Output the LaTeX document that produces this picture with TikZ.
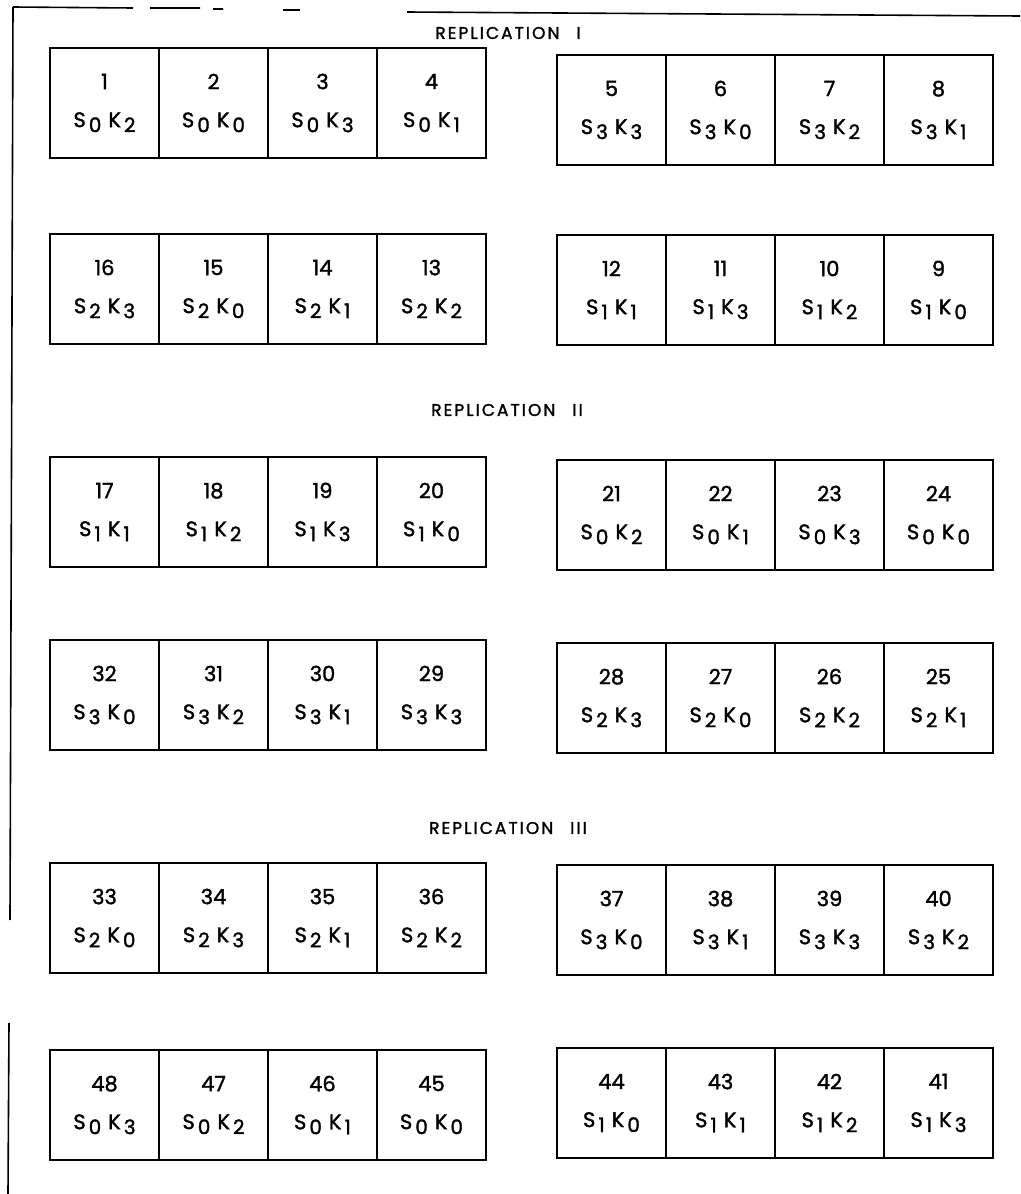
\documentclass[tikz,border=0pt]{standalone}
\usepackage{fontspec}
\setmainfont{Poppins}[FakeBold=1.6]
\newfontfamily\titlefont[LetterSpace=12,FakeBold=1.6]{Poppins}
\newcommand\plotlab[2]{S\kern3pt\raisebox{-5pt}{\fontsize{20}{20}\selectfont #1}\kern7pt K\kern3pt\raisebox{-5pt}{\fontsize{20}{20}\selectfont #2}}

\begin{document}
\begin{tikzpicture}[x=1pt, y=-1pt,
  plotbox/.style={draw, line width=2.2pt, minimum width=109pt, minimum height=110pt, inner sep=0pt, align=center, font=\fontsize{21}{38}\selectfont},
  reptitle/.style={font=\titlefont\fontsize{17}{17}\selectfont},
  frame/.style={line width=1.6pt}
]
\useasboundingbox (0,0) rectangle (1020,1194);

% field frame (broken in the scan)
\draw[frame] (13,7) -- (133,8) (150,8) -- (200,8) (213,9) -- (223,9) (283,10) -- (300,10) (407,12) -- (1020,16);
\draw[frame] (13,7) -- (10,920) (9,1023) -- (8,1194);

% replication titles
\node[reptitle] (rep1) at (508,33) {REPLICATION\quad I};
\node[reptitle] (rep2) at (507,410) {REPLICATION\quad II};
\node[reptitle] (rep3) at (508,828) {REPLICATION\quad III};

% blocks: left x / top y / plot number, S level, K level
\foreach \xo/\yo/\plots in {
  50/48/{1/0/2,2/0/0,3/0/3,4/0/1},
  557/55/{5/3/3,6/3/0,7/3/2,8/3/1},
  50/234/{16/2/3,15/2/0,14/2/1,13/2/2},
  557/235/{12/1/1,11/1/3,10/1/2,9/1/0},
  50/457/{17/1/1,18/1/2,19/1/3,20/1/0},
  557/460/{21/0/2,22/0/1,23/0/3,24/0/0},
  50/640/{32/3/0,31/3/2,30/3/1,29/3/3},
  557/643/{28/2/3,27/2/0,26/2/2,25/2/1},
  50/863/{33/2/0,34/2/3,35/2/1,36/2/2},
  557/865/{37/3/0,38/3/1,39/3/3,40/3/2},
  50/1050/{48/0/3,47/0/2,46/0/1,45/0/0},
  557/1048/{44/1/0,43/1/1,42/1/2,41/1/3}}
{
  \foreach \n/\s/\k [count=\i from 0] in \plots
    \node[plotbox] (p\n) at (\xo+\i*109+54.5, \yo+55) {\n\\\plotlab{\s}{\k}};
}

\end{tikzpicture}
\end{document}
